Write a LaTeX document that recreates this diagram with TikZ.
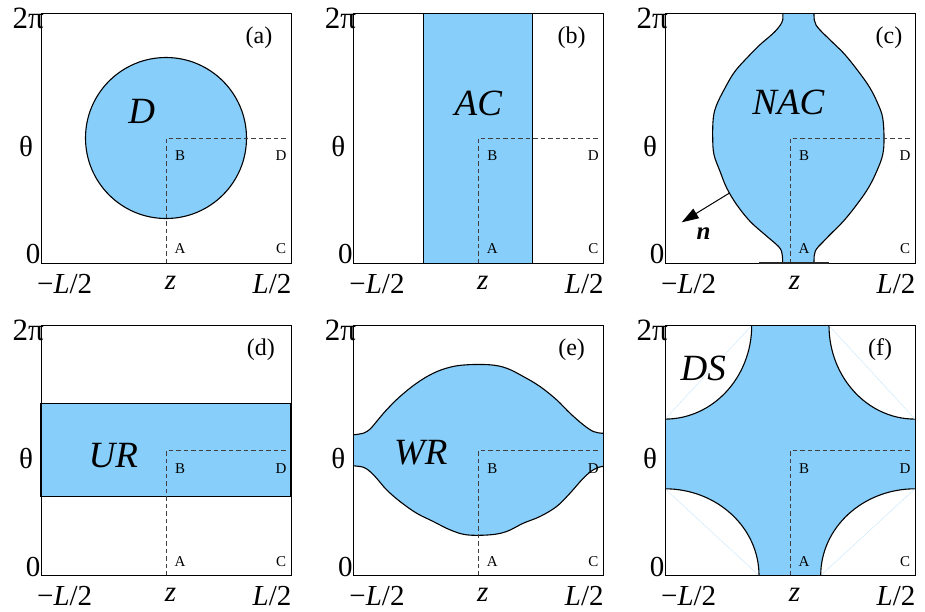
\documentclass[tikz,border=0pt]{standalone}
\usepackage{fontspec}
\setmainfont{Liberation Serif}
\usetikzlibrary{arrows.meta}
\definecolor{fillblue}{RGB}{135,206,250}
\newcommand\panelframe[2]{%
  \draw[guide] (125,250) -- (125,125) -- (245,125);
  \draw[frame] (0,0) rectangle (250,250);
  \node[axislbl,anchor=east,font=\fontsize{31}{32}\selectfont] (#1top) at (3,5) {2π};
  \node[axislbl] (#1th) at (-15,133) {θ};
  \node[axislbl] (#1zero) at (-8,241) {0};
  \node[axislbl,anchor=base] (#1lo) at (23.7,280) {−\textit{L}/2};
  \node[axislbl,anchor=base] (#1z) at (129.5,276) {\textit{z}};
  \node[axislbl,anchor=base] (#1hi) at (231,280) {\textit{L}/2};
  \node[corner] (#1B) at (139,143) {B};
  \node[corner] (#1D) at (240,143) {D};
  \node[corner] (#1A) at (139,236) {A};
  \node[corner] (#1C) at (240,236) {C};
}
\begin{document}
\begin{tikzpicture}[x=1pt,y=-1pt,
  frame/.style={draw=black,line width=0.9pt},
  iface/.style={draw=black,line width=1.1pt},
  guide/.style={draw=black!75,line width=0.8pt,dash pattern=on 4.5pt off 3pt},
  axislbl/.style={inner sep=0pt,font=\fontsize{29}{30}\selectfont},
  region/.style={inner sep=0pt,font=\fontsize{37}{38}\selectfont\itshape},
  tag/.style={inner sep=0pt,font=\fontsize{24}{26}\selectfont},
  corner/.style={inner sep=0pt,font=\fontsize{15}{16}\selectfont},
  faint/.style={draw=fillblue!55,line width=0.3pt}]
\useasboundingbox (0,0) rectangle (925,611);

% ---------------- (a) ----------------
\begin{scope}[shift={(41,13)}]
  \filldraw[fill=fillblue,iface] (125,125) circle [radius=80.5pt];
  \panelframe{a}{a}
  \node[tag] (atag) at (218,25) {(a)};
  \node[region] (areg) at (100.7,98.7) {D};
\end{scope}

% ---------------- (b) ----------------
\begin{scope}[shift={(353.3,13)}]
  \fill[fillblue] (70.4,0) rectangle (179.4,250);
  \draw[iface] (70.4,0) -- (70.4,250) (179.4,0) -- (179.4,250);
  \panelframe{b}{b}
  \node[tag] (btag) at (218.3,25) {(b)};
  \node[region] (breg) at (125,90) {AC};
\end{scope}

% ---------------- (c) ----------------
\begin{scope}[shift={(665,13)}]
  \fill[fillblue] plot[smooth,tension=0.6] coordinates {(117.7,0) (117.7,7) (115,12.5) (110,18.5) (104,24) (95,31.7) (85,41.7) (70,58.3) (60,75) (51.7,91.7) (48.3,105) (47.7,125) (49,141.7) (55,158.3) (61.7,175) (71.7,191.7) (85,208.3) (100,221.7) (108,228.5) (113.5,233.5) (116.5,238) (117.4,243) (117.7,250)}
    -- plot[smooth,tension=0.6] coordinates {(149,250) (149.2,243) (150.3,238) (153.5,233.5) (157,230) (165,221.7) (178.3,208.3) (191.7,191.7) (203.3,175) (211.7,158.3) (217.7,141.7) (219,125) (217.7,105) (213.3,91.7) (205,75) (193.3,58.3) (180,41.7) (170,31.7) (161,23) (155,17) (151,12) (149.3,7) (149,0)} -- cycle;
  \draw[iface] plot[smooth,tension=0.6] coordinates {(117.7,0) (117.7,7) (115,12.5) (110,18.5) (104,24) (95,31.7) (85,41.7) (70,58.3) (60,75) (51.7,91.7) (48.3,105) (47.7,125) (49,141.7) (55,158.3) (61.7,175) (71.7,191.7) (85,208.3) (100,221.7) (108,228.5) (113.5,233.5) (116.5,238) (117.4,243) (117.7,250)};
  \draw[iface] plot[smooth,tension=0.6] coordinates {(149,250) (149.2,243) (150.3,238) (153.5,233.5) (157,230) (165,221.7) (178.3,208.3) (191.7,191.7) (203.3,175) (211.7,158.3) (217.7,141.7) (219,125) (217.7,105) (213.3,91.7) (205,75) (193.3,58.3) (180,41.7) (170,31.7) (161,23) (155,17) (151,12) (149.3,7) (149,0)};
  \panelframe{c}{c}
  \coordinate (cbl) at (94.3,250);
  \coordinate (cbr) at (164.3,250);
  \draw[black!85,line width=1.6pt] (cbl) -- (cbr);
  \node[tag] (ctag) at (224,25) {(c)};
  \node[region] (creg) at (123.3,89.2) {NAC};
  \coordinate (nstart) at (64.5,180);
  \coordinate (ntip) at (16.7,209.3);
  \draw[line width=1pt,-{Triangle[length=17pt,width=11pt]}] (nstart) -- (ntip);
  \node[inner sep=0pt,font=\fontsize{25}{26}\selectfont\bfseries\itshape] (cn) at (38.5,221) {n};
\end{scope}

% ---------------- (d) ----------------
\begin{scope}[shift={(41,325.5)}]
  \filldraw[fill=fillblue,iface] (0,77.6) rectangle (250,171.3);
  \panelframe{d}{d}
  \node[tag] (dtag) at (219.8,24.3) {(d)};
  \node[region] (dreg) at (72.3,130) {UR};
\end{scope}

% ---------------- (e) ----------------
\begin{scope}[shift={(353.3,325.5)}]
  \fill[fillblue] plot[smooth,tension=0.6] coordinates {(0,109.3) (10,107.7) (16.7,103.7) (23.3,96) (33.3,84.3) (46.7,71) (63.3,57.7) (80,47.7) (96.7,41.7) (113.3,39.3) (136.7,39.3) (153.3,42.7) (170,51) (186.7,61) (203.3,74.3) (216.7,87.7) (230,99.3) (240,106) (248.3,107.7) (250,107.7)}
    -- plot[smooth,tension=0.6] coordinates {(250,141) (248.3,141) (240,144.3) (230,152.7) (216.7,167.7) (203.3,181) (186.7,191) (170,197.7) (153.3,206) (136.7,209.3) (113.3,209.3) (96.7,204.3) (80,196) (63.3,187.7) (46.7,176) (33.3,164.3) (23.3,152.7) (16.7,146) (10,141.7) (0,140.3)} -- cycle;
  \draw[iface] plot[smooth,tension=0.6] coordinates {(0,109.3) (10,107.7) (16.7,103.7) (23.3,96) (33.3,84.3) (46.7,71) (63.3,57.7) (80,47.7) (96.7,41.7) (113.3,39.3) (136.7,39.3) (153.3,42.7) (170,51) (186.7,61) (203.3,74.3) (216.7,87.7) (230,99.3) (240,106) (248.3,107.7) (250,107.7)};
  \draw[iface] plot[smooth,tension=0.6] coordinates {(250,141) (248.3,141) (240,144.3) (230,152.7) (216.7,167.7) (203.3,181) (186.7,191) (170,197.7) (153.3,206) (136.7,209.3) (113.3,209.3) (96.7,204.3) (80,196) (63.3,187.7) (46.7,176) (33.3,164.3) (23.3,152.7) (16.7,146) (10,141.7) (0,140.3)};
  \panelframe{e}{e}
  \draw[black,line width=1.3pt] (0,100) -- (0,109.3) (0,140.3) -- (0,149) (250,99) -- (250,107.7) (250,141) -- (250,151);
  \node[tag] (etag) at (218.3,24) {(e)};
  \node[region] (ereg) at (67.5,127.6) {WR};
\end{scope}

% ---------------- (f) ----------------
\begin{scope}[shift={(665,325.5)}]
  \fill[fillblue] (0,0) rectangle (250,250);
  \begin{scope}
    \clip (0,0) rectangle (250,250);
    \filldraw[fill=white,iface] (0,0) ellipse [x radius=86.7pt, y radius=93.6pt];
    \filldraw[fill=white,iface] (250,0) ellipse [x radius=86pt, y radius=93.6pt];
    \filldraw[fill=white,iface] (0,250) ellipse [x radius=94pt, y radius=86.7pt];
    \filldraw[fill=white,iface] (250,250) ellipse [x radius=94.3pt, y radius=86.7pt];
  \end{scope}
  \draw[faint] (86.7,0) -- (0,93.6);
  \draw[faint] (164,0) -- (250,93.6);
  \draw[faint] (0,163.3) -- (94,250);
  \draw[faint] (155.7,250) -- (250,163.3);
  \panelframe{f}{f}
  \node[tag] (ftag) at (215,24) {(f)};
  \node[region] (freg) at (38.3,43.3) {DS};
\end{scope}
\end{tikzpicture}
\end{document}
